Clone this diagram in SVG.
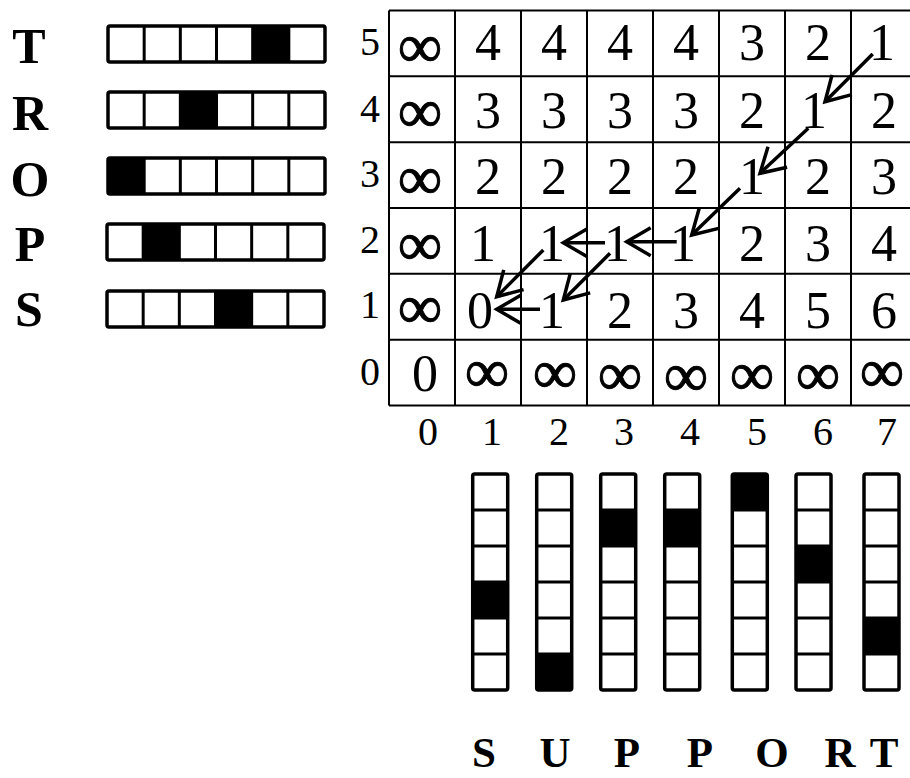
<svg xmlns="http://www.w3.org/2000/svg" xmlns:xlink="http://www.w3.org/1999/xlink" width="910" height="778" viewBox="0 0 910 778">
<style>
.bg{fill:#fff}
.grid line{stroke:#000;stroke-width:2}
.cell{font-family:"Liberation Serif","Times New Roman",serif;font-size:52px;text-anchor:middle;fill:#000}
.inf{font-family:"Liberation Serif","Times New Roman",serif;font-size:62px;text-anchor:middle;fill:#000;stroke:#000;stroke-width:1}
.lab{font-family:"Liberation Serif","Times New Roman",serif;font-size:40px;text-anchor:middle;fill:#000}
.big{font-family:"Liberation Serif","Times New Roman",serif;font-size:50px;font-weight:bold;text-anchor:middle;fill:#000}
.bot{font-family:"Liberation Serif","Times New Roman",serif;font-size:43px;font-weight:bold;text-anchor:middle;fill:#000}
.out{fill:none;stroke:#000;stroke-width:3.5}
.div{stroke:#000;stroke-width:3}
.on{fill:#000}
.arr{stroke:#000;stroke-width:3.5;fill:none;marker-end:url(#ah)}
</style>
<defs>
<marker id="ah" markerUnits="userSpaceOnUse" orient="auto" refX="0" refY="0" markerWidth="60" markerHeight="60" viewBox="-30 -30 60 60" overflow="visible">
<path d="M-24,-14 L0,0 L-24,14" fill="none" stroke="#000" stroke-width="3.5" stroke-linejoin="miter"/>
</marker>
<g id="hbar">
<line class="div" x1="36.17" y1="0" x2="36.17" y2="36"/>
<line class="div" x1="72.33" y1="0" x2="72.33" y2="36"/>
<line class="div" x1="108.5" y1="0" x2="108.5" y2="36"/>
<line class="div" x1="144.67" y1="0" x2="144.67" y2="36"/>
<line class="div" x1="180.83" y1="0" x2="180.83" y2="36"/>
<rect class="out" x="0" y="0" width="217" height="36" rx="2"/>
</g>
<g id="vbar">
<line class="div" x1="0" y1="36" x2="35" y2="36"/>
<line class="div" x1="0" y1="72" x2="35" y2="72"/>
<line class="div" x1="0" y1="108" x2="35" y2="108"/>
<line class="div" x1="0" y1="144" x2="35" y2="144"/>
<line class="div" x1="0" y1="180" x2="35" y2="180"/>
<rect class="out" x="0" y="0" width="35" height="216" rx="2"/>
</g>
</defs>
<rect class="bg" x="0" y="0" width="910" height="778"/>

<g id="left-word">
<g id="row-T"><text class="big" x="29" y="63">T</text><g transform="translate(108,26)"><rect class="on" x="144.67" y="0" width="36.17" height="36"/><use xlink:href="#hbar"/></g></g>
<g id="row-R"><text class="big" x="30" y="130">R</text><g transform="translate(108,92)"><rect class="on" x="72.33" y="0" width="36.17" height="36"/><use xlink:href="#hbar"/></g></g>
<g id="row-O"><text class="big" x="30" y="196">O</text><g transform="translate(108,158)"><rect class="on" x="0" y="0" width="36.17" height="36"/><use xlink:href="#hbar"/></g></g>
<g id="row-P"><text class="big" x="30" y="261">P</text><g transform="translate(107,224)"><rect class="on" x="36.17" y="0" width="36.17" height="36"/><use xlink:href="#hbar"/></g></g>
<g id="row-S"><text class="big" x="29" y="326">S</text><g transform="translate(107,291)"><rect class="on" x="108.5" y="0" width="36.17" height="36"/><use xlink:href="#hbar"/></g></g>
</g>

<g id="grid" class="grid">
<line x1="389" y1="10.5" x2="910" y2="10.5"/>
<line x1="389" y1="76.3" x2="910" y2="76.3"/>
<line x1="389" y1="142.2" x2="910" y2="142.2"/>
<line x1="389" y1="208" x2="910" y2="208"/>
<line x1="389" y1="273.8" x2="910" y2="273.8"/>
<line x1="389" y1="339.7" x2="910" y2="339.7"/>
<line x1="389" y1="405.5" x2="910" y2="405.5"/>
<line x1="389" y1="10.5" x2="389" y2="405.5"/>
<line x1="455" y1="10.5" x2="455" y2="405.5"/>
<line x1="521" y1="10.5" x2="521" y2="405.5"/>
<line x1="587" y1="10.5" x2="587" y2="405.5"/>
<line x1="653" y1="10.5" x2="653" y2="405.5"/>
<line x1="719" y1="10.5" x2="719" y2="405.5"/>
<line x1="785" y1="10.5" x2="785" y2="405.5"/>
<line x1="851" y1="10.5" x2="851" y2="405.5"/>
</g>

<g id="row-labels">
<text class="lab" x="370" y="55">5</text>
<text class="lab" x="370" y="122">4</text>
<text class="lab" x="370" y="187">3</text>
<text class="lab" x="370" y="253">2</text>
<text class="lab" x="370" y="318">1</text>
<text class="lab" x="370" y="385">0</text>
</g>
<g id="col-labels">
<text class="lab" x="428" y="445">0</text>
<text class="lab" x="492" y="445">1</text>
<text class="lab" x="559" y="445">2</text>
<text class="lab" x="624" y="445">3</text>
<text class="lab" x="690" y="445">4</text>
<text class="lab" x="757" y="445">5</text>
<text class="lab" x="823" y="445">6</text>
<text class="lab" x="887" y="445">7</text>
</g>

<g id="cells">
<text class="inf" x="420" y="67">∞</text>
<text class="cell" x="488" y="60">4</text>
<text class="cell" x="554" y="60">4</text>
<text class="cell" x="620" y="60">4</text>
<text class="cell" x="686" y="60">4</text>
<text class="cell" x="752" y="60">3</text>
<text class="cell" x="818" y="60">2</text>
<text class="cell" x="882" y="60">1</text>

<text class="inf" x="420" y="132">∞</text>
<text class="cell" x="488" y="128">3</text>
<text class="cell" x="554" y="128">3</text>
<text class="cell" x="620" y="128">3</text>
<text class="cell" x="686" y="128">3</text>
<text class="cell" x="752" y="128">2</text>
<text class="cell" x="814" y="128">1</text>
<text class="cell" x="884" y="128">2</text>

<text class="inf" x="420" y="199">∞</text>
<text class="cell" x="488" y="194">2</text>
<text class="cell" x="554" y="194">2</text>
<text class="cell" x="620" y="194">2</text>
<text class="cell" x="686" y="194">2</text>
<text class="cell" x="752" y="194">1</text>
<text class="cell" x="818" y="194">2</text>
<text class="cell" x="884" y="194">3</text>

<text class="inf" x="420" y="265">∞</text>
<text class="cell" x="483" y="261">1</text>
<text class="cell" x="552" y="261">1</text>
<text class="cell" x="617" y="261">1</text>
<text class="cell" x="683" y="261">1</text>
<text class="cell" x="752" y="261">2</text>
<text class="cell" x="818" y="261">3</text>
<text class="cell" x="884" y="261">4</text>

<text class="inf" x="420" y="328">∞</text>
<text class="cell" x="480" y="328">0</text>
<text class="cell" x="552" y="328">1</text>
<text class="cell" x="620" y="328">2</text>
<text class="cell" x="686" y="328">3</text>
<text class="cell" x="752" y="328">4</text>
<text class="cell" x="818" y="328">5</text>
<text class="cell" x="884" y="328">6</text>

<text class="cell" x="425" y="391">0</text>
<text class="inf" x="487" y="392">∞</text>
<text class="inf" x="555" y="393">∞</text>
<text class="inf" x="620" y="395">∞</text>
<text class="inf" x="686" y="396">∞</text>
<text class="inf" x="752" y="395">∞</text>
<text class="inf" x="818" y="395">∞</text>
<text class="inf" x="882" y="392">∞</text>
</g>

<g id="connectors">
<line class="arr" x1="872.7" y1="54" x2="825" y2="101.7"/>
<line class="arr" x1="808.3" y1="128.3" x2="760" y2="173.3"/>
<line class="arr" x1="740" y1="188.3" x2="691.7" y2="235"/>
<line class="arr" x1="676.7" y1="241.7" x2="626.7" y2="241.7"/>
<line class="arr" x1="605" y1="242.7" x2="563.3" y2="242.7"/>
<line class="arr" x1="610" y1="253.3" x2="563.3" y2="300"/>
<line class="arr" x1="543.3" y1="250" x2="496.7" y2="296.7"/>
<line class="arr" x1="540" y1="309.3" x2="496.7" y2="309.3"/>
</g>

<g id="bottom-word">
<g id="col-S"><g transform="translate(472.7,474)"><rect class="on" x="0" y="108" width="35" height="36"/><use xlink:href="#vbar"/></g><text class="bot" x="484" y="767">S</text></g>
<g id="col-U"><g transform="translate(536.7,474)"><rect class="on" x="0" y="180" width="35" height="36"/><use xlink:href="#vbar"/></g><text class="bot" x="555" y="767">U</text></g>
<g id="col-P1"><g transform="translate(600.7,474)"><rect class="on" x="0" y="36" width="35" height="36"/><use xlink:href="#vbar"/></g><text class="bot" x="627" y="767">P</text></g>
<g id="col-P2"><g transform="translate(664.7,474)"><rect class="on" x="0" y="36" width="35" height="36"/><use xlink:href="#vbar"/></g><text class="bot" x="700" y="767">P</text></g>
<g id="col-O"><g transform="translate(732.3,474)"><rect class="on" x="0" y="0" width="35" height="36"/><use xlink:href="#vbar"/></g><text class="bot" x="772" y="767">O</text></g>
<g id="col-R"><g transform="translate(796,474)"><rect class="on" x="0" y="72" width="35" height="36"/><use xlink:href="#vbar"/></g><text class="bot" x="840" y="767">R</text></g>
<g id="col-T"><g transform="translate(864,474)"><rect class="on" x="0" y="144" width="35" height="36"/><use xlink:href="#vbar"/></g><text class="bot" x="884" y="767">T</text></g>
</g>
</svg>
